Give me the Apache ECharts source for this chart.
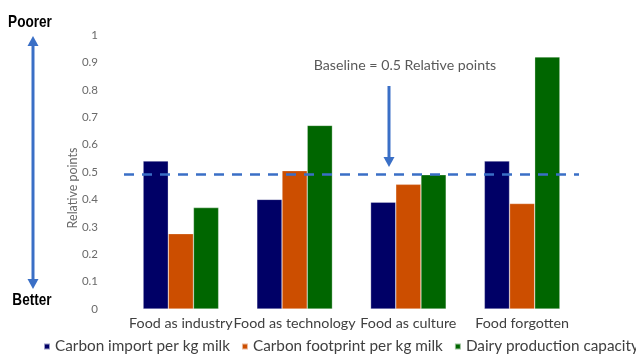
<!DOCTYPE html>
<html>
<head>
<meta charset="utf-8">
<script src="https://cdn.jsdelivr.net/npm/echarts@6/dist/echarts.min.js"></script>
<style>
  html, body { margin: 0; padding: 0; background: #fff; }
  #main { width: 636px; height: 354px; }
</style>
</head>
<body>
<div id="main"></div>
<script>
// data
var categories = ['Food as industry', 'Food as technology', 'Food as culture', 'Food forgotten'];
var carbonImport = [0.54, 0.40, 0.39, 0.54];
var carbonFootprint = [0.275, 0.505, 0.455, 0.385];
var dairyCapacity = [0.37, 0.67, 0.49, 0.92];
var seriesNames = ['Carbon import per kg milk', 'Carbon footprint per kg milk', 'Dairy production capacity'];
var baseline = 0.495;
var yMin = 0, yMax = 1, yStep = 0.1;

var font = 'Lato, "Open Sans", sans-serif';
var blue = '#3a6fc6';
var boldFont = '"Liberation Sans", Arial, sans-serif';

var myChart = echarts.init(document.getElementById('main'));

var option = {
    animation: false,
    color: ['#000066', '#cc4e00', '#006600'],
    grid: { left: 124, right: 57, top: 35, bottom: 45 },
    legend: {
        data: seriesNames,
        left: 38,
        bottom: -5,
        width: 700,
        icon: 'rect',
        itemWidth: 6,
        itemHeight: 6,
        itemGap: 11,
        textStyle: { fontFamily: font, fontSize: 15.3, color: '#404040' }
    },
    xAxis: {
        type: 'category',
        data: categories,
        axisLine: { show: false },
        axisTick: { show: false },
        axisLabel: { fontFamily: font, fontSize: 14.3, color: '#404040', margin: 7, interval: 0 }
    },
    yAxis: {
        type: 'value',
        min: yMin,
        max: yMax,
        interval: yStep,
        splitLine: { show: false },
        axisLine: { show: false },
        axisLabel: { fontFamily: font, fontSize: 11.5, color: '#6a6a6a', margin: 26 }
    },
    series: [
        {
            name: seriesNames[0], type: 'bar', data: carbonImport,
            barGap: '0%', barCategoryGap: '33.6%',
            itemStyle: { borderColor: 'rgba(255,255,255,0.6)', borderWidth: 0.5 },
            markLine: {
                silent: true,
                symbol: 'none',
                label: { show: false },
                lineStyle: { color: blue, type: [10, 8], width: 2.5 },
                data: [{ yAxis: baseline }]
            }
        },
        { name: seriesNames[1], type: 'bar', data: carbonFootprint,
          itemStyle: { borderColor: 'rgba(255,255,255,0.6)', borderWidth: 0.5 } },
        { name: seriesNames[2], type: 'bar', data: dairyCapacity,
          itemStyle: { borderColor: 'rgba(255,255,255,0.6)', borderWidth: 0.5 } }
    ],
    graphic: [
        // y axis title
        { type: 'text', x: 73, y: 188, rotation: Math.PI / 2,
          style: { text: 'Relative points', fontFamily: font, fontSize: 12.5, fill: '#6a6a6a',
                   textAlign: 'center', textVerticalAlign: 'middle' } },
        // baseline annotation
        { type: 'text', x: 405, y: 65,
          style: { text: 'Baseline = 0.5 Relative points', fontFamily: font, fontSize: 14.2, fill: '#595959',
                   textAlign: 'center', textVerticalAlign: 'middle' } },
        { type: 'line', shape: { x1: 389, y1: 86, x2: 389, y2: 159 },
          style: { stroke: blue, lineWidth: 3 } },
        { type: 'polygon', shape: { points: [[383.5, 157], [394.5, 157], [389, 167]] },
          style: { fill: blue } },
        // poorer / better scale
        { type: 'text', x: 30, y: 22, scaleX: 0.8,
          style: { text: 'Poorer', fontFamily: boldFont, fontWeight: 'bold', fontSize: 17, fill: '#000',
                   textAlign: 'center', textVerticalAlign: 'middle' } },
        { type: 'text', x: 32, y: 300, scaleX: 0.8,
          style: { text: 'Better', fontFamily: boldFont, fontWeight: 'bold', fontSize: 17, fill: '#000',
                   textAlign: 'center', textVerticalAlign: 'middle' } },
        { type: 'line', shape: { x1: 33, y1: 44, x2: 33, y2: 281 },
          style: { stroke: blue, lineWidth: 3 } },
        { type: 'polygon', shape: { points: [[27.5, 46], [38.5, 46], [33, 36]] },
          style: { fill: blue } },
        { type: 'polygon', shape: { points: [[27.5, 279], [38.5, 279], [33, 289]] },
          style: { fill: blue } }
    ]
};

myChart.setOption(option);
</script>
</body>
</html>
